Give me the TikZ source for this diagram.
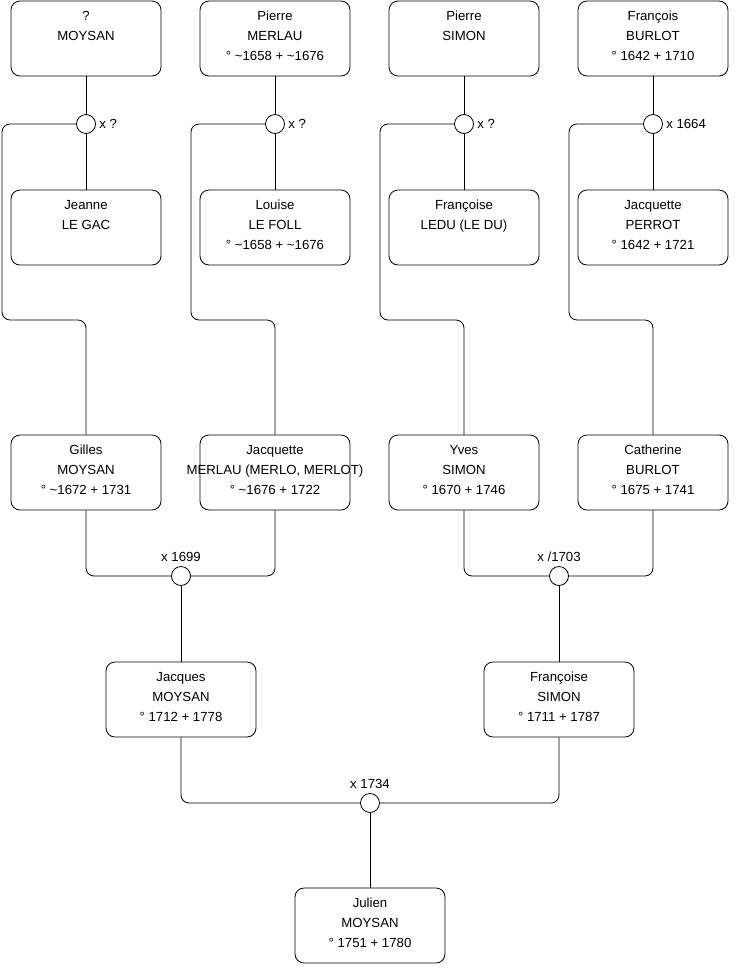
\documentclass[tikz,border=0pt]{standalone}
\usepackage{fontspec}
\setmainfont{Liberation Sans}
\usetikzlibrary{positioning}
% three-line card text, top aligned
\newcommand{\fiche}[3]{\makebox[140pt]{\begin{tabular}[t]{@{}c@{}}#1\\#2\\#3\end{tabular}}}

\begin{document}
\begin{tikzpicture}[x=1pt,y=-1pt,line width=0.8pt,
  font=\fontsize{13.2}{20}\selectfont,
  person/.style={draw, rounded corners=9, minimum width=150, minimum height=75, inner sep=0, text depth=50},
  union/.style={circle, draw, fill=white, minimum size=19, inner sep=0},
  date/.style={inner sep=1},
  link/.style={rounded corners=8}]
\useasboundingbox (0,0) rectangle (740,975);

% Generation 1
\node[person] (moysanQ) at (86,38.5) {\fiche{?}{MOYSAN}{}};
\node[person] (pierreM) at (275,38.5) {\fiche{Pierre}{MERLAU}{° \textasciitilde1658 + \textasciitilde1676}};
\node[person] (pierreS) at (464,38.5) {\fiche{Pierre}{SIMON}{}};
\node[person] (francoisB) at (653,38.5) {\fiche{François}{BURLOT}{° 1642 + 1710}};

\node[person] (jeanne) at (86,227.5) {\fiche{Jeanne}{LE GAC}{}};
\node[person] (louise) at (275,227.5) {\fiche{Louise}{LE FOLL}{° \textasciitilde1658 + \textasciitilde1676}};
\node[person] (francoiseL) at (464,227.5) {\fiche{Françoise}{LEDU (LE DU)}{}};
\node[person] (jacquetteP) at (653,227.5) {\fiche{Jacquette}{PERROT}{° 1642 + 1721}};

\node[union] (u1) at (86,124) {};
\node[union] (u2) at (275,124) {};
\node[union] (u3) at (464,124) {};
\node[union] (u4) at (653,124) {};
\node[date, right=2pt of u1] (u1d) {x ?};
\node[date, right=2pt of u2] (u2d) {x ?};
\node[date, right=2pt of u3] (u3d) {x ?};
\node[date, right=2pt of u4] (u4d) {x 1664};

% Generation 2
\node[person] (gilles) at (86,472.5) {\fiche{Gilles}{MOYSAN}{° \textasciitilde1672 + 1731}};
\node[person] (jacquetteM) at (275,472.5) {\fiche{Jacquette}{MERLAU (MERLO, MERLOT)}{° \textasciitilde1676 + 1722}};
\node[person] (yves) at (464,472.5) {\fiche{Yves}{SIMON}{° 1670 + 1746}};
\node[person] (catherine) at (653,472.5) {\fiche{Catherine}{BURLOT}{° 1675 + 1741}};

\node[union] (u5) at (181,576) {};
\node[union] (u6) at (559,576) {};
\node[date, above=3pt of u5] (u5d) {x 1699};
\node[date, above=3pt of u6] (u6d) {x /1703};

% Generation 3
\node[person] (jacques) at (181,699.5) {\fiche{Jacques}{MOYSAN}{° 1712 + 1778}};
\node[person] (francoiseS) at (559,699.5) {\fiche{Françoise}{SIMON}{° 1711 + 1787}};

\node[union] (u7) at (370,803) {};
\node[date, above=3pt of u7] (u7d) {x 1734};

\node[person] (julien) at (370,925.5) {\fiche{Julien}{MOYSAN}{° 1751 + 1780}};

% links
\draw (moysanQ.south) -- (u1.north) (u1.south) -- (jeanne.north);
\draw (pierreM.south) -- (u2.north) (u2.south) -- (louise.north);
\draw (pierreS.south) -- (u3.north) (u3.south) -- (francoiseL.north);
\draw (francoisB.south) -- (u4.north) (u4.south) -- (jacquetteP.north);
\draw[link] (u1.west) -| (2,320) -| (gilles.north);
\draw[link] (u2.west) -| (191,320) -| (jacquetteM.north);
\draw[link] (u3.west) -| (380,320) -| (yves.north);
\draw[link] (u4.west) -| (569,320) -| (catherine.north);

\draw[link] (gilles.south) |- (u5.west);
\draw[link] (jacquetteM.south) |- (u5.east);
\draw[link] (yves.south) |- (u6.west);
\draw[link] (catherine.south) |- (u6.east);
\draw (u5.south) -- (jacques.north);
\draw (u6.south) -- (francoiseS.north);

\draw[link] (jacques.south) |- (u7.west);
\draw[link] (francoiseS.south) |- (u7.east);
\draw (u7.south) -- (julien.north);
\end{tikzpicture}
\end{document}
